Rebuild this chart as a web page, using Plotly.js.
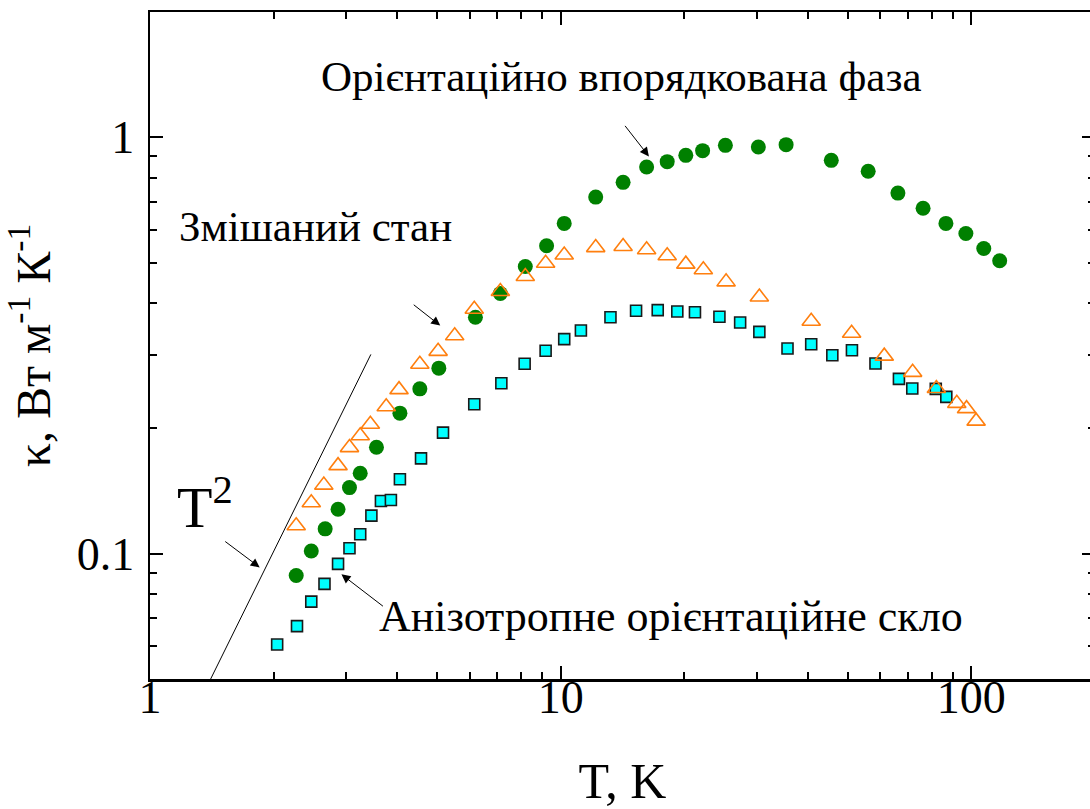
<!DOCTYPE html>
<html><head><meta charset="utf-8">
<script src="https://cdn.plot.ly/plotly-3.0.1.min.js"></script>
<style>html,body{margin:0;padding:0;overflow:hidden;background:#fff}</style>
</head><body><div id="chart" style="width:1100px;height:809px"></div>
<script>
// Orientationally ordered phase (green circles)
const orderedT = [2.27,2.47,2.67,2.87,3.06,3.25,3.56,4.06,4.54,5.05,6.2,7.13,8.2,9.24,10.2,12.17,14.19,16.19,18.17,20.17,22.16,25.18,30.29,35.39,45.59,56.07,66.24,76.28,86.7,96.96,107.2,117.2];
const orderedK = [0.0886,0.1015,0.1147,0.1278,0.1441,0.156,0.1801,0.2175,0.2488,0.279,0.3698,0.4217,0.4896,0.5491,0.6213,0.7186,0.7795,0.8485,0.8741,0.9052,0.929,0.9567,0.9477,0.9604,0.8805,0.8287,0.7346,0.6753,0.6213,0.5877,0.5409,0.5053];
// Mixed state (orange open triangles)
const mixedT = [2.27,2.47,2.65,2.87,3.06,3.25,3.44,3.76,4.04,4.54,5.03,5.52,6.16,7.13,8.2,9.19,10.2,12.17,14.19,16.19,18.17,20.17,22.25,25.28,30.46,40.74,51.1,61.36,71.94,82.18,92.15,97.34,102.7];
const mixedK = [0.1167,0.1325,0.1461,0.1627,0.1798,0.1919,0.2046,0.2253,0.2477,0.2851,0.3062,0.3337,0.3864,0.4264,0.4632,0.4982,0.5216,0.5434,0.5467,0.5368,0.5196,0.4959,0.4808,0.4496,0.4134,0.3615,0.3383,0.2981,0.2726,0.2493,0.2296,0.223,0.2081];
// Anisotropic orientational glass (cyan squares)
const glassT = [2.04,2.28,2.47,2.66,2.87,3.06,3.25,3.46,3.65,3.86,4.06,4.57,5.17,6.16,7.17,8.17,9.19,10.2,11.2,13.22,15.26,17.23,19.23,21.23,24.35,27.35,30.46,35.67,40.74,45.86,51.19,58.41,66.62,71.8,81.91,86.89];
const glassK = [0.0605,0.067,0.0767,0.0846,0.0945,0.103,0.1113,0.1234,0.1338,0.1346,0.1509,0.1694,0.1953,0.2285,0.2567,0.2858,0.3071,0.3275,0.3437,0.3698,0.3833,0.3846,0.3818,0.3802,0.3707,0.3591,0.341,0.311,0.3185,0.2996,0.3081,0.2862,0.263,0.2492,0.2488,0.238];
// T^2 guide line
const guideT = [1.405, 3.45];
const guideK = [0.05, 0.301];

const xTicks = [1, 10, 100];
const yTicks = [0.1, 1];

const FONT = 'Liberation Serif';
const L = Math.log10;

const traces = [
  {x: guideT, y: guideK, mode: 'lines', line: {color: '#000', width: 1}, hoverinfo: 'skip', showlegend: false},
  {x: orderedT, y: orderedK, mode: 'markers', name: 'Орієнтаційно впорядкована фаза',
   marker: {symbol: 'circle', size: 15, color: '#008000', line: {width: 0}}},
  {x: glassT, y: glassK, mode: 'markers', name: 'Анізотропне орієнтаційне скло',
   marker: {symbol: 'square', size: 11, color: '#00FFFF', line: {width: 1.6, color: '#1a1a1a'}}},
  {x: mixedT, y: mixedK, mode: 'markers', name: 'Змішаний стан',
   marker: {symbol: 'triangle-up-open', size: 16, color: '#FF7F0E', line: {width: 1.6, color: '#FF7F0E'}}}
];

const arrowStyle = {showarrow: true, arrowhead: 2, arrowsize: 1.8, arrowwidth: 1, arrowcolor: '#000', text: '', standoff: 0};
const annotations = [
  {xref: 'x', yref: 'y', x: L(2.58), y: L(1.402), text: 'Орієнтаційно впорядкована фаза', showarrow: false,
   xanchor: 'left', yanchor: 'middle', font: {family: FONT, size: 43, color: '#000'}},
  {xref: 'x', yref: 'y', x: L(1.163), y: L(0.611), text: 'Змішаний стан', showarrow: false,
   xanchor: 'left', yanchor: 'middle', font: {family: FONT, size: 43, color: '#000'}},
  {xref: 'x', yref: 'y', x: L(3.57), y: L(0.0705), text: 'Анізотропне орієнтаційне скло', showarrow: false,
   xanchor: 'left', yanchor: 'middle', font: {family: FONT, size: 44, color: '#000'}},
  {xref: 'x', yref: 'y', x: L(1.15), y: L(0.1319), text: 'T<sup>2</sup>', showarrow: false,
   xanchor: 'left', yanchor: 'middle', font: {family: FONT, size: 58, color: '#000'}},
  Object.assign({xref: 'x', yref: 'y', x: L(16.4), y: L(0.9), ax: -25, ay: -32}, arrowStyle),
  Object.assign({xref: 'x', yref: 'y', x: L(5.09), y: L(0.353), ax: -28, ay: -22}, arrowStyle),
  Object.assign({xref: 'x', yref: 'y', x: L(1.85), y: L(0.0927), ax: -36, ay: -27}, arrowStyle),
  Object.assign({xref: 'x', yref: 'y', x: L(2.925), y: L(0.0892), ax: 43, ay: 33}, arrowStyle)
];

const layout = {
  width: 1100, height: 809,
  margin: {l: 150, r: 5, t: 12, b: 130},
  paper_bgcolor: '#fff', plot_bgcolor: '#fff',
  showlegend: false,
  font: {family: FONT, color: '#000'},
  xaxis: {
    type: 'log', range: [0, L(200)],
    tickvals: xTicks, ticktext: xTicks.map(String),
    ticks: 'inside', ticklen: 13, tickwidth: 2, tickcolor: '#000',
    minor: {ticks: 'inside', ticklen: 7, tickwidth: 2, tickcolor: '#000', dtick: 'D1', showgrid: false},
    showline: true, linewidth: 2.5, linecolor: '#000', mirror: 'ticks',
    showgrid: false, zeroline: false,
    tickfont: {family: FONT, size: 46}, ticklabelstandoff: -24,
    title: {text: 'T, K', font: {family: FONT, size: 50}, standoff: 43}
  },
  yaxis: {
    type: 'log', range: [L(0.05), L(2)],
    tickvals: yTicks, ticktext: ['0.1', '1'],
    ticks: 'inside', ticklen: 13, tickwidth: 2, tickcolor: '#000',
    minor: {ticks: 'inside', ticklen: 7, tickwidth: 2, tickcolor: '#000', dtick: 'D1', showgrid: false},
    showline: true, linewidth: 2.5, linecolor: '#000', mirror: 'ticks',
    showgrid: false, zeroline: false,
    tickfont: {family: FONT, size: 46}, ticklabelstandoff: 4,
    title: {text: 'κ, Вт м<sup>-1</sup> К<sup>-1</sup>', font: {family: FONT, size: 48}, standoff: 12}
  },
  annotations: annotations
};

Plotly.newPlot('chart', traces, layout, {displayModeBar: false, staticPlot: true});
</script>
</body></html>
